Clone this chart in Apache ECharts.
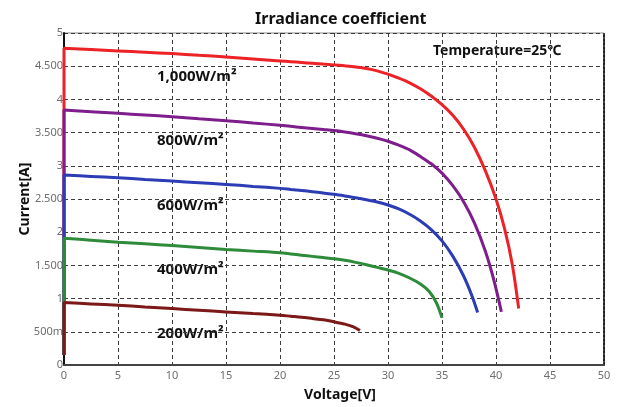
<!DOCTYPE html>
<html>
<head>
<meta charset="utf-8">
<script src="https://cdn.jsdelivr.net/npm/echarts@6/dist/echarts.min.js"></script>
<style>html,body{margin:0;padding:0;background:#fff;}#c{width:621px;height:407px;}</style>
</head>
<body>
<div id="c"></div>
<script>
// ---- data ----
const xTicks = [0,5,10,15,20,25,30,35,40,45,50];
const yTickLabels = {0:'0',0.5:'500m',1:'1',1.5:'1.500',2:'2',2.5:'2.500',3:'3',3.5:'3.500',4:'4',4.5:'4.500',5:'5'};

const v1000 = [0,0,2.5,5,7.5,10,12.5,15,17.5,20,21,22,23,24,25,26,27,28,29,30,31,32,33,34,35,36,37,38,39,40,40.8,41.5,42.1];
const i1000 = [0.15,4.77,4.75,4.73,4.71,4.69,4.665,4.64,4.61,4.58,4.568,4.556,4.544,4.532,4.52,4.505,4.488,4.465,4.43,4.38,4.32,4.25,4.16,4.05,3.92,3.76,3.55,3.28,2.93,2.50,2.05,1.52,0.85];

const v800 = [0,0,2.5,5,7.5,10,12.5,15,17.5,20,21,22,23,24,25,26,27,28,29,30,31,32,33,34,35,36,37,38,39,39.8,40.5];
const i800 = [0.15,3.84,3.815,3.79,3.765,3.74,3.71,3.68,3.645,3.61,3.594,3.578,3.562,3.546,3.53,3.508,3.482,3.452,3.415,3.37,3.31,3.24,3.14,3.03,2.89,2.70,2.46,2.14,1.72,1.28,0.80];

const v600 = [0,0,2.5,5,7.5,10,12.5,15,17.5,20,21,22,23,24,25,26,27,28,29,30,31,32,33,34,35,36,37,37.8,38.3];
const i600 = [0.15,2.86,2.84,2.82,2.795,2.77,2.745,2.72,2.69,2.66,2.644,2.628,2.61,2.59,2.57,2.546,2.52,2.49,2.455,2.41,2.35,2.27,2.17,2.04,1.87,1.64,1.34,1.03,0.79];

const v400 = [0,0,2.5,5,7.5,10,12.5,15,17.5,20,21,22,23,24,25,26,27,28,29,30,31,32,33,33.8,34.5,35];
const i400 = [0.15,1.91,1.88,1.85,1.825,1.80,1.77,1.74,1.715,1.69,1.672,1.654,1.636,1.618,1.60,1.577,1.546,1.51,1.47,1.43,1.38,1.31,1.22,1.11,0.93,0.71];

const v200 = [0,0,2.5,5,7.5,10,12.5,15,17.5,20,21,22,23,24,25,26,26.8,27.4];
const i200 = [0.15,0.94,0.92,0.90,0.875,0.85,0.825,0.80,0.775,0.75,0.735,0.72,0.70,0.68,0.65,0.615,0.575,0.52];

const seriesNames = ['1,000W/m²','800W/m²','600W/m²','400W/m²','200W/m²'];
const seriesColors = ['#ec2227','#7e1e8c','#2c3cb4','#2e8b3a','#7c1818'];
const seriesV = [v1000,v800,v600,v400,v200];
const seriesI = [i1000,i800,i600,i400,i200];

const chart = echarts.init(document.getElementById('c'));
const gridLine = {show:true, lineStyle:{color:'#3c3c3c', type:[4,3], width:1}};
const labelStyle = {color:'#6e6e6e', fontFamily:'Noto Sans', fontSize:11};
const annFont = 'bold 15px "Noto Sans"';

chart.setOption({
  animation:false,
  backgroundColor:'#fff',
  title:{text:'Irradiance coefficient', left:250, top:6,
    textStyle:{fontFamily:'Noto Sans', fontWeight:'bold', fontSize:16, color:'#111'}},
  grid:{left:64, right:17, top:33, bottom:37, show:true, borderColor:'#8a8a8a', borderWidth:1},
  xAxis:{type:'value', min:0, max:50, interval:5,
    name:'Voltage[V]', nameLocation:'middle', nameGap:23, nameMoveOverlap:false,
    nameTextStyle:{fontFamily:'Noto Sans', fontWeight:'bold', fontSize:14, color:'#111', padding:[0,0,0,12]},
    axisLine:{lineStyle:{color:'#444', width:2}}, axisTick:{show:false},
    axisLabel:Object.assign({margin:5, formatter:v=>xTicks.includes(v)?String(v):''}, labelStyle),
    splitLine:gridLine},
  yAxis:[{type:'value', min:0, max:5, interval:0.5,
    name:'Current[A]', nameLocation:'middle', nameGap:32, nameMoveOverlap:false,
    nameTextStyle:{fontFamily:'Noto Sans', fontWeight:'bold', fontSize:14, color:'#111'},
    axisLine:{show:true, lineStyle:{color:'#111', width:2}}, axisTick:{show:false},
    axisLabel:Object.assign({margin:1, formatter:v=>yTickLabels[v] ?? ''}, labelStyle),
    splitLine:gridLine},
   {type:'value', min:0, max:5, interval:0.5, position:'right',
    axisLine:{show:true, lineStyle:{color:'#222', width:2, type:'dotted'}},
    axisTick:{show:false}, axisLabel:{show:false}, splitLine:{show:false}}],
  series: seriesNames.map((n,k)=>({
    name:n, type:'line', showSymbol:false, symbol:'none', smooth:0.3,
    data: seriesV[k].map((v,j)=>[v, seriesI[k][j]]),
    lineStyle:{color:seriesColors[k], width:3}, z:2+k
  })),
  graphic:[
    {type:'text', left:157, top:69, style:{text:'1,000W/m²', font:annFont, fill:'#111'}},
    {type:'text', left:157, top:133, style:{text:'800W/m²', font:annFont, fill:'#111'}},
    {type:'text', left:157, top:198, style:{text:'600W/m²', font:annFont, fill:'#111'}},
    {type:'text', left:157, top:262, style:{text:'400W/m²', font:annFont, fill:'#111'}},
    {type:'text', left:157, top:326, style:{text:'200W/m²', font:annFont, fill:'#111'}},
    {type:'text', left:433, top:44, style:{text:'Temperature=25℃', font:'bold 14px "Noto Sans"', fill:'#111'}}
  ]
});
</script>
</body>
</html>
